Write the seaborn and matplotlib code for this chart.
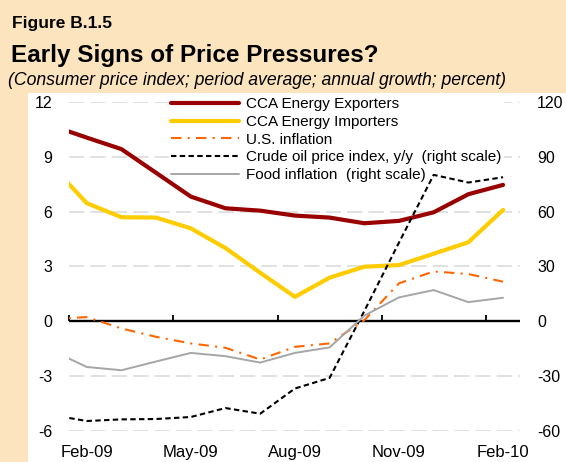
import matplotlib
matplotlib.use("Agg")
import matplotlib.pyplot as plt
from matplotlib.patches import Rectangle
import numpy as np
import pandas as pd
import seaborn as sns

# Monthly observations (the first month sits just left of the visible window)
months = ["Jan-09", "Feb-09", "Mar-09", "Apr-09", "May-09", "Jun-09", "Jul-09",
          "Aug-09", "Sep-09", "Oct-09", "Nov-09", "Dec-09", "Jan-10", "Feb-10"]

# Left scale (percent)
cca_exporters = [10.7, 10.05, 9.42, 8.12, 6.82, 6.18, 6.05, 5.78, 5.67, 5.36, 5.49, 5.96, 6.95, 7.46]
cca_importers = [8.5, 6.46, 5.69, 5.67, 5.08, 4.0, 2.65, 1.33, 2.38, 2.98, 3.07, 3.69, 4.32, 6.09]
us_inflation = [0.12, 0.22, -0.40, -0.86, -1.22, -1.46, -2.10, -1.41, -1.22, 0.05, 2.07, 2.72, 2.58, 2.16]

# Right scale (percent)
crude_oil = [-51.4, -54.7, -53.8, -53.6, -52.5, -47.6, -50.7, -36.9, -31.1, 5.5, 43.0, 80.1, 75.9, 78.8]
food_inflation = [-16.1, -25.1, -26.9, -22.1, -17.4, -19.2, -22.7, -17.4, -14.4, 3.0, 13.0, 17.0, 10.4, 12.8]

left_ticks = [-6, -3, 0, 3, 6, 9, 12]
right_ticks = [-60, -30, 0, 30, 60, 90, 120]

labels = {
    "exp": "CCA Energy Exporters",
    "imp": "CCA Energy Importers",
    "us": "U.S. inflation",
    "oil": "Crude oil price index, y/y  (right scale)",
    "food": "Food inflation  (right scale)",
}

df = pd.DataFrame({
    "t": np.arange(len(months)),
    "exp": cca_exporters,
    "imp": cca_importers,
    "us": us_inflation,
    "oil": crude_oil,
    "food": food_inflation,
})

sns.set_theme(style="white")
plt.rcParams["font.family"] = ["Liberation Sans", "DejaVu Sans"]
plt.rcParams["text.color"] = "black"

BEIGE = "#FCE5BE"
W, H = 566, 462
fig = plt.figure(figsize=(W / 100, H / 100), dpi=100, facecolor=BEIGE)

# white chart panel
panel = Rectangle((28 / W, 0), 1 - 28 / W, (H - 92.7) / H,
                  transform=fig.transFigure, facecolor="white",
                  edgecolor="none", zorder=-10)
fig.patches.append(panel)

fig.text(12 / W, 1 - 28 / H, "Figure B.1.5", weight="bold",
         fontsize=12.5, va="baseline", ha="left", color="black")
fig.text(11 / W, 1 - 62 / H, "Early Signs of Price Pressures?",
         weight="bold", fontsize=17.5, va="baseline", ha="left", color="black")
fig.text(8 / W, 1 - 85 / H,
         "(Consumer price index; period average; annual growth; percent)",
         style="italic", fontsize=12.7, va="baseline", ha="left", color="black")

x0, x1 = 69.4, 520.4
y0, y1 = 430.7, 102.0
ax = fig.add_axes([x0 / W, 1 - y0 / H, (x1 - x0) / W, (y0 - y1) / H])
ax.patch.set_visible(False)
ax2 = ax.twinx()
ax2.patch.set_visible(False)

sns.lineplot(data=df, x="t", y="exp", ax=ax, color="#990000", lw=3.0,
             label=labels["exp"], zorder=4)
sns.lineplot(data=df, x="t", y="imp", ax=ax, color="#FFCC00", lw=3.0,
             label=labels["imp"], zorder=4)
sns.lineplot(data=df, x="t", y="us", ax=ax, color="#FF6600", lw=1.5,
             linestyle=(0, (5, 3, 1, 3)), label=labels["us"], zorder=4)
sns.lineplot(data=df, x="t", y="oil", ax=ax2, color="black", lw=1.5,
             linestyle=(0, (2.6, 1.6)), label=labels["oil"], zorder=4)
sns.lineplot(data=df, x="t", y="food", ax=ax2, color="#A6A6A6", lw=1.4,
             label=labels["food"], zorder=4)

ax.set_xlim(0.5, len(months) - 0.5)
ax.set_ylim(left_ticks[0], left_ticks[-1])
ax2.set_ylim(right_ticks[0], right_ticks[-1])
ax.set_yticks(left_ticks)
ax.set_yticklabels([str(v) for v in left_ticks])
ax2.set_yticks(right_ticks)
ax2.set_yticklabels([str(v) for v in right_ticks])

label_pos = list(range(1, len(months), 3))
ax.set_xticks(label_pos)
ax.set_xticklabels([months[i] for i in label_pos])
ax.set_xlabel("")
ax.set_ylabel("")
ax2.set_ylabel("")

for a in (ax, ax2):
    for s in a.spines.values():
        s.set_visible(False)

ax.tick_params(axis="x", length=0, pad=10, labelsize=12, labelcolor="black")
ax.tick_params(axis="y", length=0, pad=12.5, labelsize=11.5, labelcolor="black")
ax2.tick_params(axis="y", length=0, pad=12, labelsize=11.5, labelcolor="black")

# dashed horizontal grid (zero gets the solid category axis instead)
for v in left_ticks:
    if v != 0:
        ax.axhline(v, color="#D9D9D9", lw=1.1, linestyle=(0, (10, 4)), zorder=1)
ax.grid(False)
ax2.grid(False)

# zero line acting as the category axis, tick marks between categories
ax.axhline(0, color="black", lw=1.7, zorder=3)
zero_frac = (0 - left_ticks[0]) / (left_ticks[-1] - left_ticks[0])
zx = ax.secondary_xaxis(zero_frac)
for s in zx.spines.values():
    s.set_visible(False)
zx.set_xticks([p - 0.5 for p in label_pos])
zx.tick_params(axis="x", which="major", bottom=True, direction="in",
               length=4.5, width=1.3, labelbottom=False, color="black")

# combined legend, kept beneath the data lines
h1, l1 = ax.get_legend_handles_labels()
h2, l2 = ax2.get_legend_handles_labels()
if ax2.get_legend() is not None:
    ax2.get_legend().remove()
leg = ax.legend(h1 + h2, l1 + l2, loc="upper left",
                bbox_to_anchor=(169 / W, 1 - 95 / H), bbox_transform=fig.transFigure,
                frameon=True, fancybox=False, framealpha=1, facecolor="white",
                edgecolor="none", fontsize=11, handlelength=4.4,
                handletextpad=0.5, labelspacing=0.24, borderpad=0.15,
                borderaxespad=0)
for t in leg.get_texts():
    t.set_color("black")
leg.set_zorder(2)

fig.savefig("out.png", dpi=100, facecolor=BEIGE)
